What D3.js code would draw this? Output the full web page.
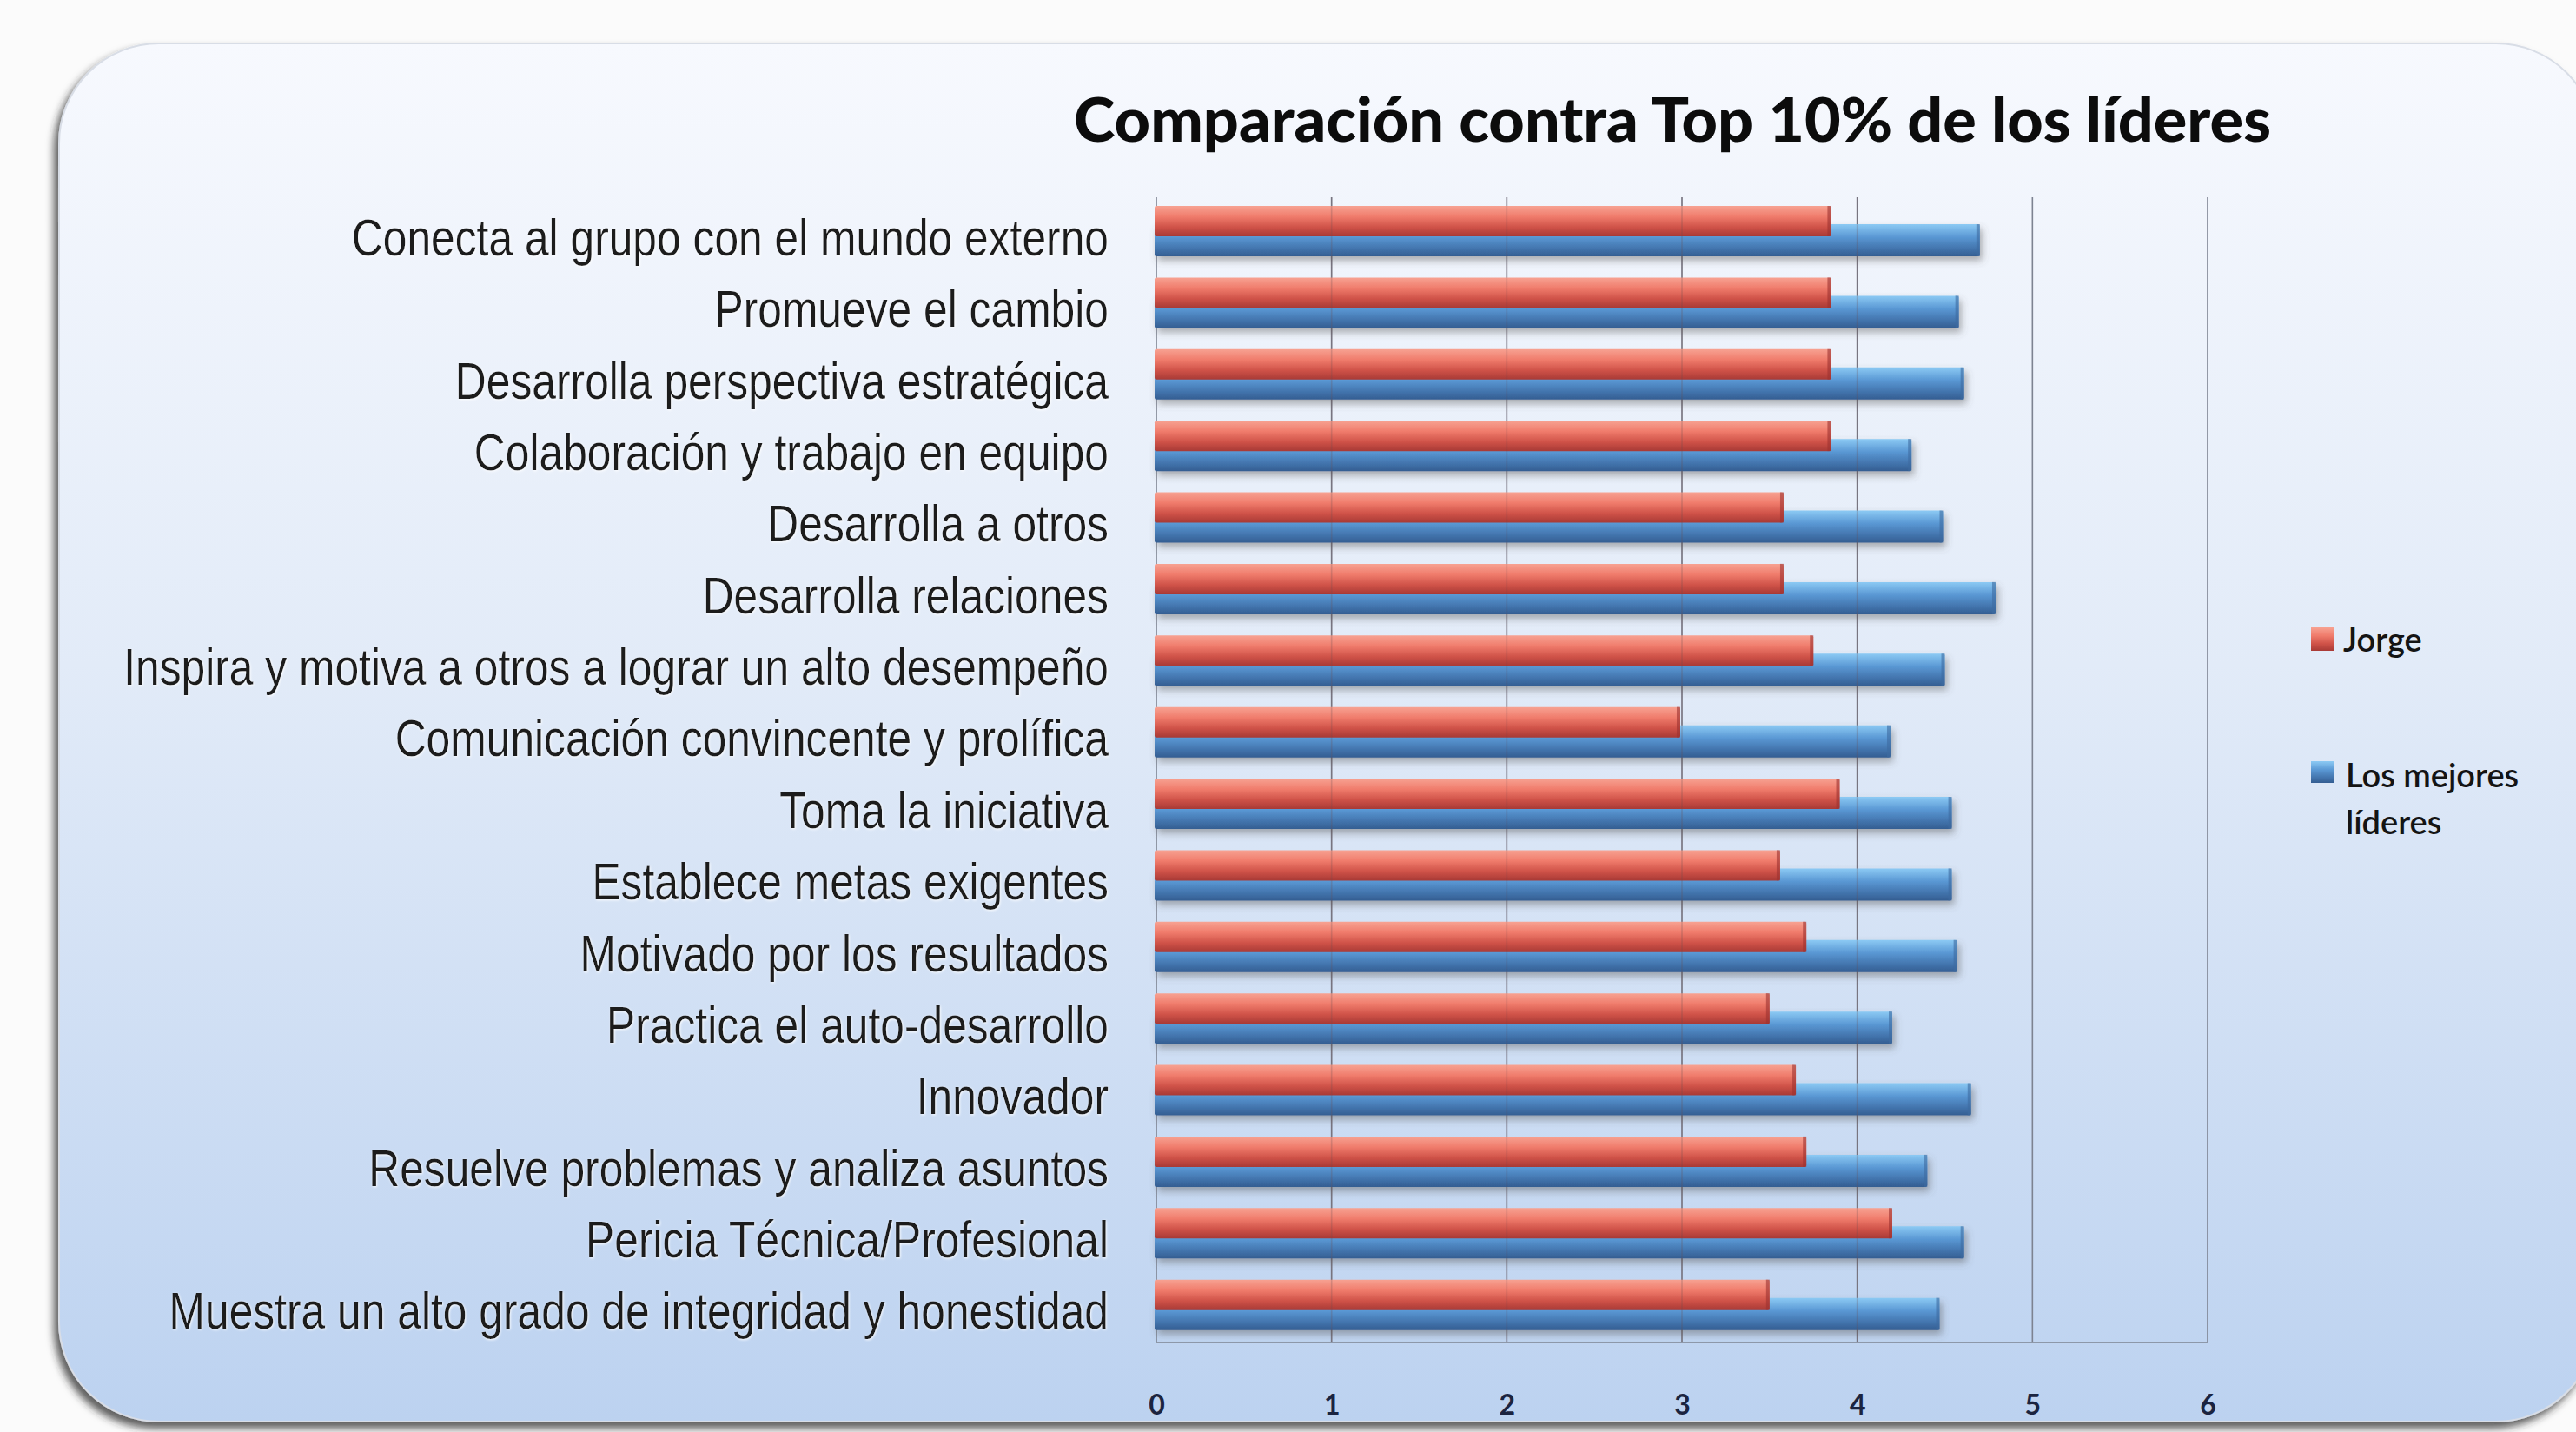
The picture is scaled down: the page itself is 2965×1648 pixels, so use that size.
<!DOCTYPE html>
<html>
<head>
<meta charset="utf-8">
<script src="https://cdn.jsdelivr.net/npm/d3@7"></script>
<style>
  html, body { margin: 0; padding: 0; background: #fbfbfb; }
  svg { display: block; }
</style>
</head>
<body>
<div id="chart"></div>
<script>
var width = 2965;
var height = 1648;

// categories, top to bottom
var categories = [
	"Conecta al grupo con el mundo externo",
	"Promueve el cambio",
	"Desarrolla perspectiva estratégica",
	"Colaboración y trabajo en equipo",
	"Desarrolla a otros",
	"Desarrolla relaciones",
	"Inspira y motiva a otros a lograr un alto desempeño",
	"Comunicación convincente y prolífica",
	"Toma la iniciativa",
	"Establece metas exigentes",
	"Motivado por los resultados",
	"Practica el auto-desarrollo",
	"Innovador",
	"Resuelve problemas y analiza asuntos",
	"Pericia Técnica/Profesional",
	"Muestra un alto grado de integridad y honestidad"
	];

var jorge = [3.85, 3.85, 3.85, 3.85, 3.58, 3.58, 3.75, 2.99, 3.9, 3.56, 3.71, 3.5, 3.65, 3.71, 4.2, 3.5];
var mejores = [4.7, 4.58, 4.61, 4.31, 4.49, 4.79, 4.5, 4.19, 4.54, 4.54, 4.57, 4.2, 4.65, 4.4, 4.61, 4.47];

var xTicks = [0, 1, 2, 3, 4, 5, 6];
var legendLabels = ["Jorge", ["Los mejores", "líderes"]];

var rows = categories.map((c, i) => ({ name: c, jorge: jorge[i], mejores: mejores[i] }));

var svg = d3.select("#chart")
	.append("svg")
		.attr("width", width)
		.attr("height", height)
	;

var defs = svg.append("defs");

// background panel gradient
var bg = defs.append("linearGradient").attr("id", "bgGrad")
	.attr("x1", 0).attr("y1", 0).attr("x2", 0).attr("y2", 1);
bg.append("stop").attr("offset", "0%").attr("stop-color", "#f7f9fe");
bg.append("stop").attr("offset", "45%").attr("stop-color", "#e2ebf8");
bg.append("stop").attr("offset", "100%").attr("stop-color", "#bcd2f0");

var redGrad = defs.append("linearGradient").attr("id", "redGrad")
	.attr("x1", 0).attr("y1", 0).attr("x2", 0).attr("y2", 1);
redGrad.append("stop").attr("offset", "0%").attr("stop-color", "#f7a292");
redGrad.append("stop").attr("offset", "35%").attr("stop-color", "#f07c6c");
redGrad.append("stop").attr("offset", "70%").attr("stop-color", "#cf5248");
redGrad.append("stop").attr("offset", "100%").attr("stop-color", "#a83a36");

var blueGrad = defs.append("linearGradient").attr("id", "blueGrad")
	.attr("x1", 0).attr("y1", 0).attr("x2", 0).attr("y2", 1);
blueGrad.append("stop").attr("offset", "0%").attr("stop-color", "#8ccaf4");
blueGrad.append("stop").attr("offset", "40%").attr("stop-color", "#5a98d4");
blueGrad.append("stop").attr("offset", "75%").attr("stop-color", "#4375ae");
blueGrad.append("stop").attr("offset", "100%").attr("stop-color", "#345e92");

var panelShadow = defs.append("filter").attr("id", "panelShadow")
	.attr("x", "-5%").attr("y", "-5%").attr("width", "110%").attr("height", "110%");
panelShadow.append("feDropShadow")
	.attr("dx", -5).attr("dy", 7).attr("stdDeviation", 5)
	.attr("flood-color", "#2a2a2a").attr("flood-opacity", 0.75);

var barShadow = defs.append("filter").attr("id", "barShadow")
	.attr("x", "-5%").attr("y", "-30%").attr("width", "110%").attr("height", "180%");
barShadow.append("feDropShadow")
	.attr("dx", 3).attr("dy", 5).attr("stdDeviation", 4)
	.attr("flood-color", "#555").attr("flood-opacity", 0.45);

var textShadow = defs.append("filter").attr("id", "textShadow")
	.attr("x", "-5%").attr("y", "-20%").attr("width", "110%").attr("height", "140%");
textShadow.append("feDropShadow")
	.attr("dx", 1).attr("dy", 1).attr("stdDeviation", 1.5)
	.attr("flood-color", "#fff").attr("flood-opacity", 0.9);

// rounded panel
svg.append("rect")
	.attr("x", 68).attr("y", 50)
	.attr("width", 2920).attr("height", 1586)
	.attr("rx", 115).attr("ry", 115)
	.attr("fill", "url(#bgGrad)")
	.attr("stroke", "#d8dde6").attr("stroke-width", 2)
	.attr("filter", "url(#panelShadow)");

// scales
var x = d3.scaleLinear().domain([0, 6]).range([1331, 2541]);
var y = d3.scaleBand().domain(categories).range([227, 1545]).padding(0);
var bw = y.bandwidth();

// gridlines
svg.append("g")
	.selectAll("line")
	.data(xTicks)
	.enter()
		.append("line")
			.attr("x1", d => x(d)).attr("x2", d => x(d))
			.attr("y1", 227).attr("y2", 1545)
			.attr("stroke", "#7d8391")
			.attr("stroke-width", 1.6)
	;

svg.append("line")
	.attr("x1", x(0)).attr("x2", x(6))
	.attr("y1", 1545).attr("y2", 1545)
	.attr("stroke", "#7d8391").attr("stroke-width", 1.6);

// bars: blue behind, red in front
var bars = svg.append("g");

bars.selectAll("rect.mejores")
	.data(rows)
	.enter()
		.append("rect")
			.attr("class", "mejores")
			.attr("x", x(0) - 2)
			.attr("y", d => y(d.name) + 31)
			.attr("width", d => x(d.mejores) - x(0) + 2)
			.attr("height", 37)
			.attr("rx", 2)
			.attr("fill", "url(#blueGrad)")
			.attr("filter", "url(#barShadow)")
	;

bars.selectAll("rect.jorge")
	.data(rows)
	.enter()
		.append("rect")
			.attr("class", "jorge")
			.attr("x", x(0) - 2)
			.attr("y", d => y(d.name) + 10)
			.attr("width", d => x(d.jorge) - x(0) + 2)
			.attr("height", 35)
			.attr("rx", 2)
			.attr("fill", "url(#redGrad)")
	;

// darker end caps
bars.selectAll("rect.capB")
	.data(rows)
	.enter()
		.append("rect")
			.attr("x", d => x(d.mejores) - 4)
			.attr("y", d => y(d.name) + 31)
			.attr("width", 4).attr("height", 37)
			.attr("fill", "#3d6aa0").attr("opacity", 0.6)
	;
bars.selectAll("rect.capR")
	.data(rows)
	.enter()
		.append("rect")
			.attr("x", d => x(d.jorge) - 4)
			.attr("y", d => y(d.name) + 10)
			.attr("width", 4).attr("height", 35)
			.attr("fill", "#9c3230").attr("opacity", 0.6)
	;

// faint gridlines over bars
svg.append("g")
	.selectAll("line")
	.data(xTicks.slice(1, 5))
	.enter()
		.append("line")
			.attr("x1", d => x(d)).attr("x2", d => x(d))
			.attr("y1", 227).attr("y2", 1545)
			.attr("stroke", "#6a4a50")
			.attr("stroke-opacity", 0.25)
			.attr("stroke-width", 1.6)
	;

// x axis tick labels
var xAxis = d3.axisBottom(x).tickValues(xTicks).tickFormat(d3.format("d")).tickSize(0).tickPadding(0);
var xg = svg.append("g")
	.attr("transform", "translate(0,1605)")
	.call(xAxis);
xg.select(".domain").remove();
xg.selectAll("text")
	.attr("font-family", "Lato, 'Open Sans', sans-serif")
	.attr("font-weight", "bold")
	.attr("font-size", 32)
	.attr("fill", "#1b2440");

// category labels (narrow face, squeezed to the reference width)
var labelG = svg.append("g")
	.attr("transform", "translate(1276,0)");
var labelText = labelG.selectAll("text")
	.data(categories)
	.enter()
		.append("text")
			.attr("x", 0)
			.attr("y", d => y(d) + bw / 2 + 5)
			.attr("text-anchor", "end")
			.attr("dominant-baseline", "central")
			.attr("font-family", "'Liberation Sans Narrow', 'Arial Narrow', 'Liberation Sans', Arial, sans-serif")
			.attr("font-size", 60)
			.attr("fill", "#1a1a1a")
			.attr("filter", "url(#textShadow)")
			.text(d => d)
	;
var longest = labelText.filter((d, i) => i === 6).node().getComputedTextLength();
var kx = 1134 / longest;
labelG.attr("transform", "translate(1276,0) scale(" + kx + ",1)");

// title
svg.append("text")
	.attr("x", 1236)
	.attr("y", 163)
	.attr("textLength", 1378)
	.attr("lengthAdjust", "spacingAndGlyphs")
	.attr("font-family", "Lato, 'Open Sans', sans-serif")
	.attr("font-weight", 900)
	.attr("font-size", 70)
	.attr("fill", "#0c0c0c")
	.text("Comparación contra Top 10% de los líderes");

// legend
var legend = svg.append("g");
legend.append("rect")
	.attr("x", 2660).attr("y", 722).attr("width", 27).attr("height", 27)
	.attr("fill", "url(#redGrad)");
legend.append("text")
	.attr("x", 2697).attr("y", 750)
	.attr("font-family", "Lato, 'Open Sans', sans-serif")
	.attr("font-weight", 600)
	.attr("font-size", 38)
	.attr("fill", "#141414")
	.text(legendLabels[0]);

legend.append("rect")
	.attr("x", 2660).attr("y", 876).attr("width", 27).attr("height", 25)
	.attr("fill", "url(#blueGrad)");
legend.append("text")
	.attr("font-family", "Lato, 'Open Sans', sans-serif")
	.attr("font-weight", 600)
	.attr("font-size", 38)
	.attr("fill", "#141414")
	.selectAll("tspan")
	.data(legendLabels[1])
	.enter()
		.append("tspan")
			.attr("x", 2700)
			.attr("y", (d, i) => 906 + i * 54)
			.text(d => d)
	;
</script>
</body>
</html>
